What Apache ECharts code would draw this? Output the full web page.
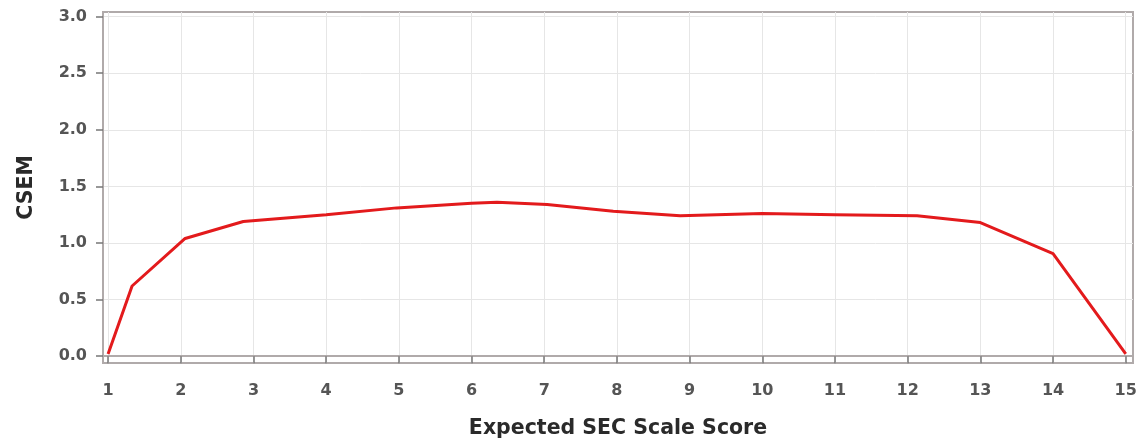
<!DOCTYPE html>
<html>
<head>
<meta charset="utf-8">
<script src="https://cdn.jsdelivr.net/npm/echarts@6/dist/echarts.min.js"></script>
<style>html,body{margin:0;padding:0;background:#fff}#c{width:1146px;height:445px}</style>
</head>
<body>
<div id="c"></div>
<script>
var scoreX = [1, 1.33, 2.06, 2.86, 4.0, 4.97, 6.0, 6.35, 7.04, 7.95, 8.87, 10.0, 11.0, 12.13, 13.0, 14.0, 15.0];
var csemY = [0.02, 0.62, 1.04, 1.19, 1.25, 1.31, 1.35, 1.36, 1.34, 1.28, 1.24, 1.26, 1.25, 1.24, 1.18, 0.905, 0.02];
var xTicks = [1,2,3,4,5,6,7,8,9,10,11,12,13,14,15];
var yTicks = [0, 0.5, 1.0, 1.5, 2.0, 2.5, 3.0];
var xTitle = 'Expected SEC Scale Score';
var yTitle = 'CSEM';

var chart = echarts.init(document.getElementById('c'), null, {renderer: 'canvas'});
var pts = scoreX.map(function (x, i) { return [x, csemY[i]]; });
var axisColor = '#b0aaaa';
var labelStyle = {color: '#555', fontSize: 16, fontFamily: 'DejaVu Sans', fontWeight: 'bold'};
var titleStyle = {color: '#2a2a2a', fontSize: 20.5, fontWeight: 'bold', fontFamily: 'DejaVu Sans'};
chart.setOption({
  animation: false,
  backgroundColor: '#fff',
  grid: {left: 103, top: 12, right: 13, bottom: 82, show: true, borderColor: axisColor, borderWidth: 2, backgroundColor: 'transparent'},
  xAxis: {
    type: 'value', min: 0.93, max: 15.1,
    name: xTitle, nameLocation: 'middle', nameGap: 55,
    nameTextStyle: titleStyle,
    axisLine: {show: true, lineStyle: {color: axisColor, width: 2}},
    axisTick: {show: true, customValues: xTicks, length: 7, lineStyle: {color: '#777', width: 1.5}},
    axisLabel: Object.assign({customValues: xTicks, margin: 20}, labelStyle),
    splitLine: {show: true, lineStyle: {color: '#e6e6e6', width: 1}}
  },
  yAxis: {
    type: 'value', min: -0.06, max: 3.04,
    name: yTitle, nameLocation: 'middle', nameGap: 66, nameRotate: 90,
    nameTextStyle: titleStyle,
    axisLine: {show: true, lineStyle: {color: axisColor, width: 2}},
    axisTick: {show: true, customValues: yTicks, length: 7, lineStyle: {color: '#777', width: 1.5}},
    axisLabel: Object.assign({customValues: yTicks, margin: 16, formatter: function (v) { return v.toFixed(1); }}, labelStyle),
    splitLine: {show: true, lineStyle: {color: '#e6e6e6', width: 1}}
  },
  series: [{
    type: 'line', data: pts, showSymbol: false, symbol: 'none',
    lineStyle: {color: '#e31a1c', width: 3}
  }]
});
</script>
</body>
</html>
